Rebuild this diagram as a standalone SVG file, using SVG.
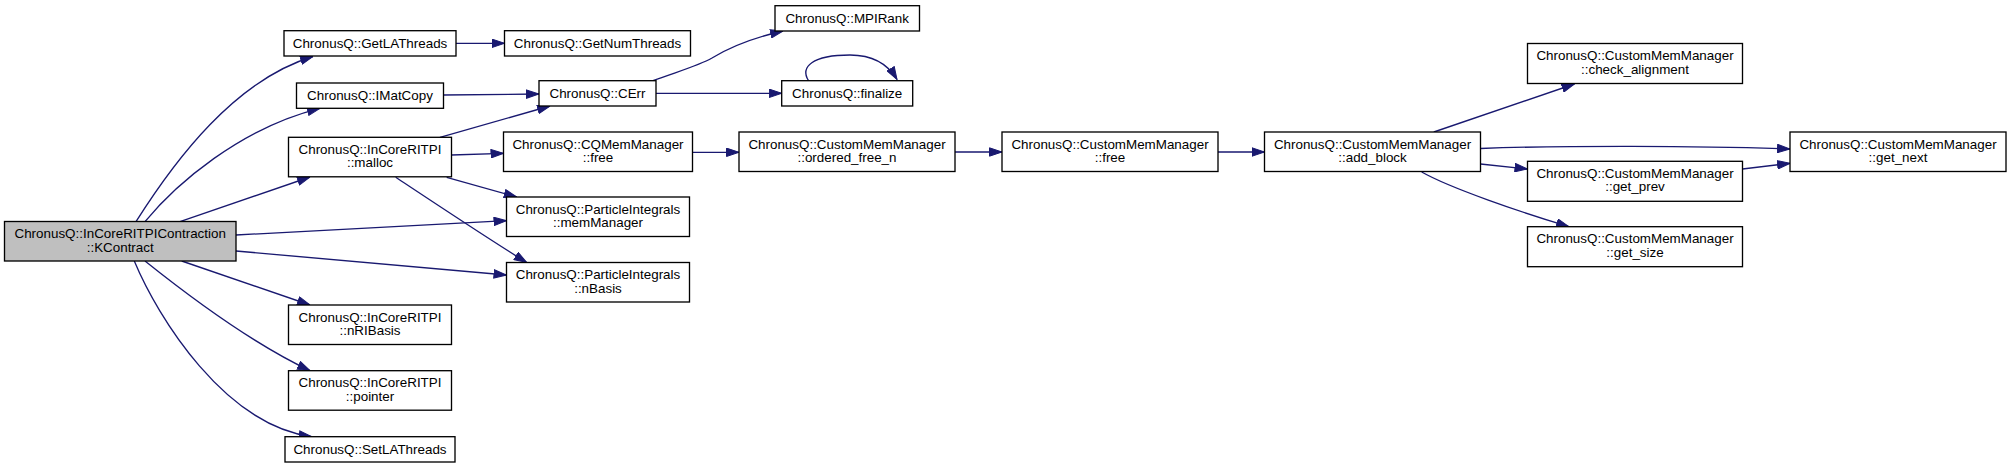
<svg xmlns="http://www.w3.org/2000/svg" width="2011" height="468" viewBox="0 0 2011 468">
<style>
.node rect{fill:#ffffff;stroke:#000000;stroke-width:1.33}
.node.root rect{fill:#bfbfbf}
.node text{font-family:"Liberation Sans",Arial,Helvetica,sans-serif;font-size:13.4px;text-anchor:middle;fill:#000000}
.edges path{fill:none;stroke:#191970;stroke-width:1.33;marker-end:url(#arr)}
</style>
<defs>
<marker id="arr" markerUnits="userSpaceOnUse" viewBox="0 0 13.3 9.4" markerWidth="13.3" markerHeight="9.4" refX="13" refY="4.7" orient="auto">
<path d="M0.5,0.5 L13,4.7 L0.5,8.9 z" fill="#191970" stroke="#191970" stroke-width="1"/>
</marker>
</defs>
<rect x="0" y="0" width="2011" height="468" fill="#ffffff"/>
<g class="edges">
<path d="M136,221.7 C175,160 235,80 313,56.5"/>
<path d="M145,221.7 C175,185 240,128 320,108.3"/>
<path d="M180,221.7 L310,177"/>
<path d="M236,235 L506.5,220.7"/>
<path d="M236,251 L506.5,275"/>
<path d="M181.7,261 L310,305"/>
<path d="M145,261 C175,285 245,340 310,370.7"/>
<path d="M134.3,261 C158,318 225,425 311.7,436.7"/>
<path d="M456,43.3 L504.5,43.3"/>
<path d="M443.5,95 L539,94"/>
<path d="M440,137.3 L550,106"/>
<path d="M451.5,155 L503.5,153.3"/>
<path d="M446.7,177.3 L516.7,197"/>
<path d="M395.7,177.3 C430,200 490,240 526.7,262.5"/>
<path d="M653,80.7 C676,72 698,66 712,58 C730,47 752,38 783,31"/>
<path d="M656,93.3 L781.7,93.3"/>
<path d="M808.5,80.7 C800,67 812,55 850,55 C875,55 889,66 897,79.5"/>
<path d="M692.5,152.3 L739,152.3"/>
<path d="M955,152 L1002,152"/>
<path d="M1218,152 L1264.5,152"/>
<path d="M1433.8,132 L1574.4,84"/>
<path d="M1480.5,148.5 C1560,145.5 1700,145.5 1790,149"/>
<path d="M1480.5,164 L1527.5,169"/>
<path d="M1421.7,172 C1450,188 1520,212 1569,226.7"/>
<path d="M1742.5,169 L1790,163.3"/>
</g>
<g id="node_kcontract" class="node root">
<rect x="4.5" y="221.5" width="231.5" height="39.5"/>
<text x="120.2" y="238.2">ChronusQ::InCoreRITPIContraction</text>
<text x="120.2" y="251.6">::KContract</text>
</g>
<g id="node_getlathreads" class="node">
<rect x="284" y="30.7" width="172" height="25.3"/>
<text x="370" y="47.7">ChronusQ::GetLAThreads</text>
</g>
<g id="node_imatcopy" class="node">
<rect x="296.5" y="83" width="147" height="25.3"/>
<text x="370" y="100">ChronusQ::IMatCopy</text>
</g>
<g id="node_malloc" class="node">
<rect x="288.5" y="137.3" width="163" height="39.5"/>
<text x="370" y="153.8">ChronusQ::InCoreRITPI</text>
<text x="370" y="167.3">::malloc</text>
</g>
<g id="node_nribasis" class="node">
<rect x="288.5" y="305" width="163" height="39.5"/>
<text x="370" y="321.5">ChronusQ::InCoreRITPI</text>
<text x="370" y="335">::nRIBasis</text>
</g>
<g id="node_pointer" class="node">
<rect x="288.5" y="370.7" width="163" height="39.5"/>
<text x="370" y="387.2">ChronusQ::InCoreRITPI</text>
<text x="370" y="400.7">::pointer</text>
</g>
<g id="node_setlathreads" class="node">
<rect x="285" y="436.7" width="170" height="25.3"/>
<text x="370" y="453.7">ChronusQ::SetLAThreads</text>
</g>
<g id="node_getnumthreads" class="node">
<rect x="504.5" y="30.7" width="186" height="25.3"/>
<text x="597.5" y="47.7">ChronusQ::GetNumThreads</text>
</g>
<g id="node_cerr" class="node">
<rect x="539" y="80.7" width="117" height="25.3"/>
<text x="597.5" y="97.7">ChronusQ::CErr</text>
</g>
<g id="node_cqfree" class="node">
<rect x="503.5" y="132" width="189" height="39.5"/>
<text x="598" y="148.5">ChronusQ::CQMemManager</text>
<text x="598" y="162">::free</text>
</g>
<g id="node_memmanager" class="node">
<rect x="506.5" y="197" width="183" height="39.5"/>
<text x="598" y="213.5">ChronusQ::ParticleIntegrals</text>
<text x="598" y="227">::memManager</text>
</g>
<g id="node_nbasis" class="node">
<rect x="506.5" y="262.5" width="183" height="39.5"/>
<text x="598" y="279">ChronusQ::ParticleIntegrals</text>
<text x="598" y="292.5">::nBasis</text>
</g>
<g id="node_mpirank" class="node">
<rect x="775" y="5.7" width="144.5" height="25.3"/>
<text x="847.2" y="22.7">ChronusQ::MPIRank</text>
</g>
<g id="node_finalize" class="node">
<rect x="781.7" y="80.7" width="131" height="25.3"/>
<text x="847.2" y="97.7">ChronusQ::finalize</text>
</g>
<g id="node_orderedfree" class="node">
<rect x="739" y="132" width="216" height="39.5"/>
<text x="847" y="148.5">ChronusQ::CustomMemManager</text>
<text x="847" y="162">::ordered_free_n</text>
</g>
<g id="node_cmmfree" class="node">
<rect x="1002" y="132" width="216" height="39.5"/>
<text x="1110" y="148.5">ChronusQ::CustomMemManager</text>
<text x="1110" y="162">::free</text>
</g>
<g id="node_addblock" class="node">
<rect x="1264.5" y="132" width="216" height="39.5"/>
<text x="1372.5" y="148.5">ChronusQ::CustomMemManager</text>
<text x="1372.5" y="162">::add_block</text>
</g>
<g id="node_checkalignment" class="node">
<rect x="1527.5" y="43.5" width="215" height="40"/>
<text x="1635" y="60">ChronusQ::CustomMemManager</text>
<text x="1635" y="73.5">::check_alignment</text>
</g>
<g id="node_getprev" class="node">
<rect x="1527.5" y="161.3" width="215" height="40"/>
<text x="1635" y="177.8">ChronusQ::CustomMemManager</text>
<text x="1635" y="191.3">::get_prev</text>
</g>
<g id="node_getsize" class="node">
<rect x="1527.5" y="226.7" width="215" height="40"/>
<text x="1635" y="243.2">ChronusQ::CustomMemManager</text>
<text x="1635" y="256.7">::get_size</text>
</g>
<g id="node_getnext" class="node">
<rect x="1790" y="132" width="216" height="39.5"/>
<text x="1898" y="148.5">ChronusQ::CustomMemManager</text>
<text x="1898" y="162">::get_next</text>
</g>
</svg>
